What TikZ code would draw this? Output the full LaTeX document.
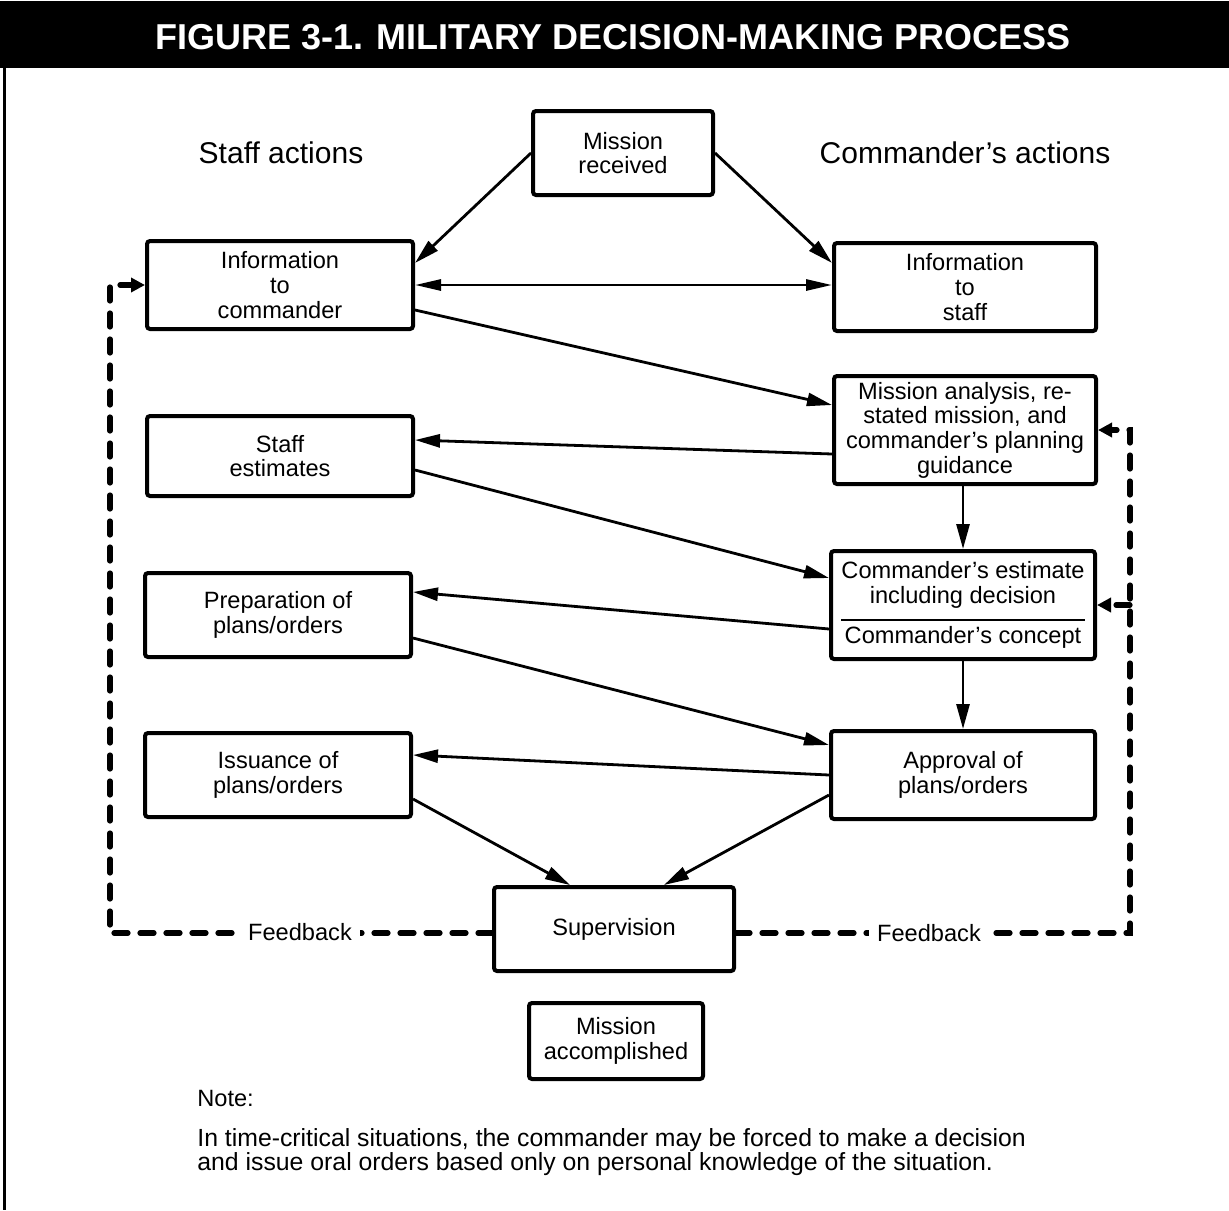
\documentclass[tikz,border=0pt]{standalone}
\usepackage{fontspec}
\setmainfont{Liberation Sans}
\usetikzlibrary{positioning,arrows.meta,calc}
\tikzset{
    base/.style={font=\fontsize{11.8}{12.3}\selectfont, align=center},
    stepbox/.style={base, rectangle, draw, line width=2pt, rounded corners=1.5pt,
                    inner sep=2pt},
    heading/.style={font=\fontsize{15}{18}\selectfont},
    flow/.style={-{Triangle[length=12.5pt,width=6.5pt]}, line width=1.4pt},
    twoway/.style={{Triangle[length=13pt,width=5.5pt]}-{Triangle[length=13pt,width=5.5pt]}, line width=1.4pt},
    feedback/.style={-{Triangle[length=7pt,width=7pt]}, line width=2.6pt,
                     dash pattern=on 7pt off 6pt, line cap=round},
    fblabel/.style={base, fill=white, inner sep=4pt}
}

\begin{document}
\begin{tikzpicture}[x=0.5pt,y=-0.5pt]
  \useasboundingbox (0,0) rectangle (1229,1210);

  % Title band and frame
  \fill (0,1) rectangle (1229,68);
  \node[text=white, font=\bfseries\fontsize{18}{21}\selectfont] (title) at (613,37)
    {FIGURE 3-1. MILITARY DECISION-MAKING PROCESS};
  \draw[line width=1.5pt] (4,68) -- (4,1210);

  % Column headings
  \node[heading] (staffhd) at (281,153) {Staff actions};
  \node[heading] (cdrhd) at (965,153) {Commander’s actions};

  % Boxes
  \node[stepbox, minimum width=90pt, minimum height=42pt] (mr) at (623,153) {Mission\\received};
  \node[stepbox, minimum width=133pt, minimum height=44pt] (ic) at (280,285) {Information\\to\\commander};
  \node[stepbox, minimum width=131pt, minimum height=44pt] (is) at (965,287) {Information\\to\\staff};
  \node[stepbox, minimum width=131pt, minimum height=54pt] (ma) at (965,430)
    {Mission analysis, re-\\stated mission, and\\commander’s planning\\guidance};
  \node[stepbox, minimum width=133pt, minimum height=40pt] (se) at (280,456) {Staff\\estimates};
  \node[stepbox, minimum width=132pt, minimum height=54pt] (ce) at (963,605)
    {Commander’s estimate\\including decision\\[8pt]Commander’s concept};
  \node[stepbox, minimum width=133pt, minimum height=42pt] (pp) at (278,615) {Preparation of\\plans/orders};
  \node[stepbox, minimum width=133pt, minimum height=42pt] (ip) at (278,775) {Issuance of\\plans/orders};
  \node[stepbox, minimum width=132pt, minimum height=44pt] (ap) at (963,775) {Approval of\\plans/orders};
  \node[stepbox, minimum width=120pt, minimum height=42pt] (sv) at (614,929) {Supervision};
  \node[stepbox, minimum width=87pt, minimum height=38pt] (mac) at (616,1041) {Mission\\accomplished};

  % Divider in the estimate box
  \draw[line width=0.9pt] ([xshift=6pt,yshift=-7.5pt]ce.west) -- ([xshift=-6pt,yshift=-7.5pt]ce.east);

  % Arrows
  \draw[flow] (mr.west) -- ([yshift=11pt]ic.east);
  \draw[flow] (mr.east) -- ([yshift=12pt]is.west);
  \draw[twoway] (ic.east) -- (ic.east -| is.west);
  \draw[flow] ([yshift=-12.5pt]ic.east) -- ([yshift=12.5pt]ma.west);
  \draw[flow] ([yshift=-12pt]ma.west) -- ([yshift=8pt]se.east);
  \draw[flow] ([yshift=-7pt]se.east) -- ([yshift=13.5pt]ce.west);
  \draw[flow] ([yshift=-12pt]ce.west) -- ([yshift=11.5pt]pp.east);
  \draw[flow] ([yshift=-11.5pt]pp.east) -- ([yshift=15pt]ap.west);
  \draw[flow] (ap.west) -- ([yshift=10pt]ip.east);
  \draw[flow] (ce.north |- ma.south) -- (ce.north);
  \draw[flow] (ce.south) -- (ap.north);
  \draw[flow] ([yshift=-12pt]ip.east) -- ([xshift=-22pt]sv.north);
  \draw[flow] ([yshift=-10pt]ap.west) -- ([xshift=25pt]sv.north);

  % Feedback loops
  \coordinate (fbl) at (110,933);
  \coordinate (fbr) at (1130,933);
  \draw[feedback] ([yshift=-2pt]sv.west) -- (fbl) -- (fbl |- ic.west) -- (ic.west);
  \draw[feedback] ([yshift=-2pt]sv.east) -- (fbr) -- (fbr |- ma.east) -- (ma.east);
  \draw[feedback] (fbr |- ce.east) -- (ce.east);
  \node[fblabel] (fbltxt) at (300,932) {Feedback};
  \node[fblabel] (fbrtxt) at (929,933) {Feedback};

  % Note
  \node[base, anchor=west, inner sep=0pt] (notehd) at (197,1098) {Note:};
  \node[base, align=left, anchor=north west, inner sep=0pt, font=\fontsize{12.4}{12.3}\selectfont]
    (notetxt) at (197,1128)
    {In time-critical situations, the commander may be forced to make a decision\\
     and issue oral orders based only on personal knowledge of the situation.};
\end{tikzpicture}
\end{document}
